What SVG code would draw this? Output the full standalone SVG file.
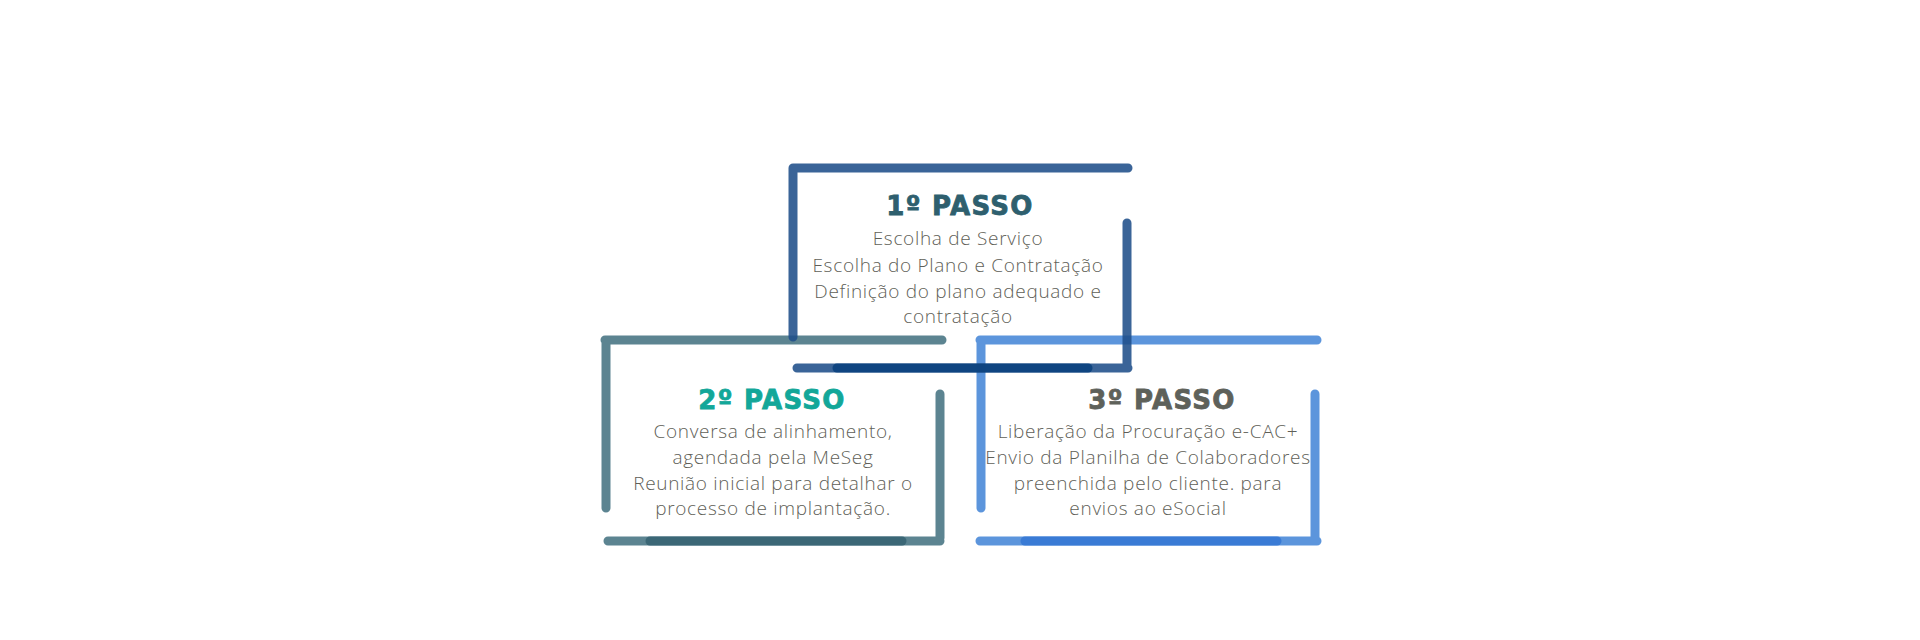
<svg xmlns="http://www.w3.org/2000/svg" width="1920" height="640" viewBox="0 0 1920 640">
<style>
.l{fill:none;stroke-width:9;stroke-linecap:round}
.b1{stroke:#1f4e8a;stroke-opacity:.88}
.o1{stroke:#0d4380;stroke-opacity:.95}
.b2{stroke:#4a7785;stroke-opacity:.9}
.o2{stroke:#3b6776}
.b3{stroke:#4a89d8;stroke-opacity:.9}
.o3{stroke:#3a7bd5}
.t{font-family:"DejaVu Sans",sans-serif;font-weight:bold;font-size:26px;letter-spacing:1.3px;text-anchor:middle;stroke-width:0.8}
.d{font-family:"Open Sans",sans-serif;font-weight:300;font-size:19px;letter-spacing:0.7px;fill:#5f5f58;text-anchor:middle}
</style>
<rect width="1920" height="640" fill="#ffffff"/>
<g id="connectors">
<g id="frame2">
<path class="l b2" d="M605 340H942M606 340V508M940 394V538M608 541H940"/>
<path class="l o2" d="M650 541H902"/>
</g>
<g id="frame3">
<path class="l b3" d="M980 340H1317M981 340V508M1315 394V538M980 541H1317"/>
<path class="l o3" d="M1025 541H1277"/>
</g>
<g id="frame1">
<path class="l b1" d="M793 168H1128M793 168V337M1127 223V367M797 368H1128"/>
<path class="l o1" d="M837 368H1088"/>
</g>
</g>
<g id="step1">
<text class="t" x="960" y="215" fill="#2e5f6e" stroke="#2e5f6e">1º PASSO</text>
<text class="d" x="958" y="245">Escolha de Serviço</text>
<text class="d" x="958" y="272">Escolha do Plano e Contratação</text>
<text class="d" x="958" y="298">Definição do plano adequado e</text>
<text class="d" x="958" y="323">contratação</text>
</g>
<g id="step2">
<text class="t" x="772" y="409" fill="#13a799" stroke="#13a799">2º PASSO</text>
<text class="d" x="773" y="438">Conversa de alinhamento,</text>
<text class="d" x="773" y="464">agendada pela MeSeg</text>
<text class="d" x="773" y="490">Reunião inicial para detalhar o</text>
<text class="d" x="773" y="515">processo de implantação.</text>
</g>
<g id="step3">
<text class="t" x="1162" y="409" fill="#5e615a" stroke="#5e615a">3º PASSO</text>
<text class="d" x="1148" y="438">Liberação da Procuração e-CAC+</text>
<text class="d" x="1148" y="464">Envio da Planilha de Colaboradores</text>
<text class="d" x="1148" y="490">preenchida pelo cliente. para</text>
<text class="d" x="1148" y="515">envios ao eSocial</text>
</g>
</svg>
